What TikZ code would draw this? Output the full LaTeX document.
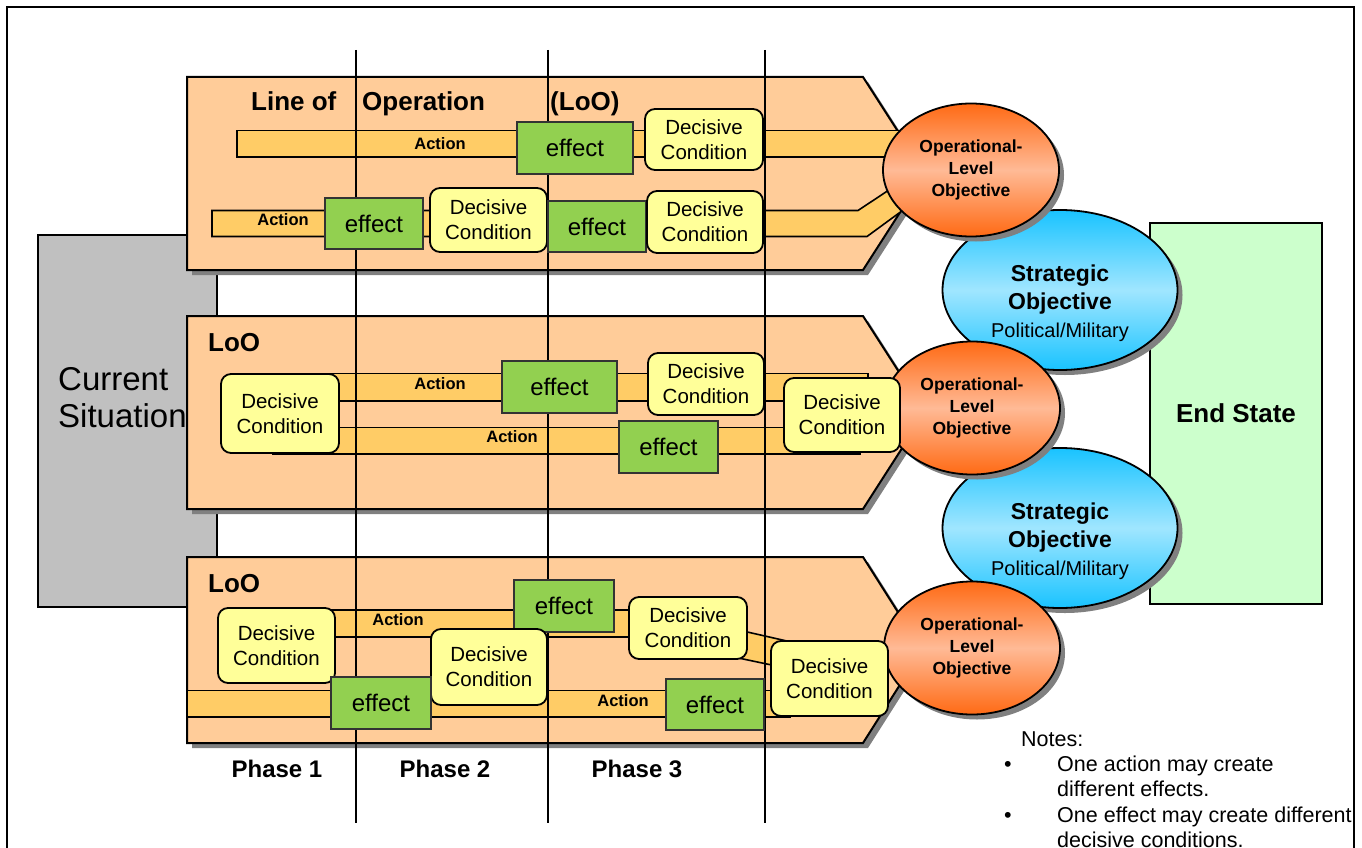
\documentclass[tikz,border=0pt]{standalone}
\usepackage{fontspec}
\setmainfont{Liberation Sans}
\usetikzlibrary{shapes.geometric,shadows,calc}

\definecolor{bandc}{HTML}{FFCC99}
\definecolor{barc}{HTML}{FFCC66}
\definecolor{effc}{HTML}{92D050}
\definecolor{dcc}{HTML}{FFFF99}
\definecolor{curc}{HTML}{C0C0C0}
\definecolor{endc}{HTML}{CCFFCC}
\definecolor{opouter}{HTML}{FF6A14}
\definecolor{opinner}{HTML}{FFBA96}
\definecolor{stouter}{HTML}{19C3FF}
\definecolor{stinner}{HTML}{A0E6FF}

\newcommand\myfs[2]{\fontsize{#1}{#2}\selectfont}

\tikzset{
  shadowed/.style={drop shadow={shadow xshift=5pt, shadow yshift=-5pt, fill=black!50, opacity=1}},
  lobband/.style={fill=bandc, draw=black, line width=2pt, shadowed},
  actbar/.style={fill=barc, draw=black, line width=1.6pt},
  phaseline/.style={draw=black, line width=2pt},
  effbox/.style={rectangle, fill=effc, draw=black!80, line width=1.2pt, inner sep=0pt, font=\myfs{24}{24}},
  dcbox/.style={rectangle, rounded corners=10pt, fill=dcc, draw=black, line width=1.8pt, inner sep=0pt, align=center, font=\myfs{20.5}{25}},
  opell/.style={ellipse, draw=black, line width=1.8pt, minimum width=176pt, minimum height=133pt, inner sep=0pt,
    top color=opouter, bottom color=opouter, middle color=opinner, shadowed, align=center, font=\bfseries\myfs{17.5}{22}},
  stell/.style={ellipse, draw=black, line width=1.8pt, minimum width=235pt, minimum height=160pt, inner sep=0pt,
    top color=stouter, bottom color=stouter, middle color=stinner, shadowed, align=center, font=\bfseries\myfs{23}{28}},
  sttag/.style={inner sep=0pt, anchor=base, font=\myfs{20}{24}},
  actlabel/.style={inner sep=0pt, font=\bfseries\myfs{16.5}{18}},
  heading/.style={inner sep=0pt, anchor=base west, font=\bfseries\myfs{26}{30}},
  phaselabel/.style={inner sep=0pt, font=\bfseries\myfs{24}{28}},
  notetext/.style={inner sep=0pt, anchor=base west, align=left, font=\myfs{21.5}{25.5}}
}

\begin{document}
\begin{tikzpicture}[x=1pt,y=-1pt]
\useasboundingbox (0,0) rectangle (1362,848);
\fill[white] (0,0) rectangle (1362,848);

% outer frame
\draw[line width=2.5pt] (7,7) rectangle (1354,900);

% current situation block
\node[rectangle, draw=black, fill=curc, line width=2pt, minimum width=179pt, minimum height=372pt,
      anchor=north west, inner sep=0pt] (cur) at (37,234) {};
\node[inner sep=0pt, anchor=west, align=left, font=\myfs{33}{37}] (curlbl) at (58,397.5) {Current\\Situation};

% lines of operation
\path[lobband] (187,77) -- (863,77) -- (925,173.5) -- (863,270) -- (187,270) -- cycle;
\path[lobband] (187,316) -- (863,316) -- (925,412.5) -- (863,509) -- (187,509) -- cycle;
\path[lobband] (187,557) -- (863,557) -- (922,650) -- (863,743) -- (187,743) -- cycle;

% action bars
\draw[actbar] (237,130.5) rectangle (920,157);
\draw[actbar] (212,210.5) -- (858,210.5) -- (925,166) -- (925,194) -- (867,236.5) -- (212,236.5) -- cycle;
\draw[actbar] (282,373.5) rectangle (868,401);
\draw[actbar] (273,427.5) rectangle (860,454);
\draw[actbar] (300,610) rectangle (640,637);
\draw[actbar] (710,623.5) -- (800,644) -- (800,671) -- (710,652) -- cycle;
\draw[actbar] (187,690.5) rectangle (790,717);

% phase boundaries
\coordinate (p1t) at (356,50);  \coordinate (p1b) at (356,823);
\coordinate (p2t) at (548,50);  \coordinate (p2b) at (548,823);
\coordinate (p3t) at (765,50);  \coordinate (p3b) at (765,823);
\draw[phaseline] (p1t) -- (p1b);
\draw[phaseline] (p2t) -- (p2b);
\draw[phaseline] (p3t) -- (p3b);

% end state
\node[rectangle, draw=black, fill=endc, line width=2pt, minimum width=172pt, minimum height=381pt,
      inner sep=0pt, font=\bfseries\myfs{26}{30}] (end) at (1236,413.5) {End State};

% strategic objectives
\node[stell] (st1) at (1060,290) {Strategic\\Objective};
\node[sttag] (st1tag) at ($(st1.center)+(0,47)$) {Political/Military};
\node[stell] (st2) at (1060,528) {Strategic\\Objective};
\node[sttag] (st2tag) at ($(st2.center)+(0,47)$) {Political/Military};

% operational-level objectives
\node[opell] (op1) at (971,170) {Operational-\\Level\\Objective};
\node[opell] (op2) at (972,408) {Operational-\\Level\\Objective};
\node[opell] (op3) at (972,648) {Operational-\\Level\\Objective};

% first line of operation
\node[effbox, minimum width=116pt, minimum height=52pt] (e11) at (575,148) {effect};
\node[dcbox, minimum width=118pt, minimum height=61pt] (d11) at (704,139.5) {Decisive\\Condition};
\node[effbox, minimum width=98pt, minimum height=51pt] (e12) at (374,223.5) {effect};
\node[dcbox, minimum width=117pt, minimum height=64pt] (d12) at (488.5,220) {Decisive\\Condition};
\node[effbox, minimum width=98pt, minimum height=51pt] (e13) at (597,226.5) {effect};
\node[dcbox, minimum width=116pt, minimum height=62pt] (d13) at (705,222) {Decisive\\Condition};

% second line of operation
\node[dcbox, minimum width=118pt, minimum height=79pt] (d21) at (280,413.5) {Decisive\\Condition};
\node[effbox, minimum width=115pt, minimum height=52pt] (e21) at (559.5,387) {effect};
\node[dcbox, minimum width=116pt, minimum height=62pt] (d22) at (706,384) {Decisive\\Condition};
\node[effbox, minimum width=99pt, minimum height=52pt] (e22) at (668.5,447) {effect};
\node[dcbox, minimum width=116pt, minimum height=74pt] (d23) at (842,415) {Decisive\\Condition};

% third line of operation
\node[dcbox, minimum width=117pt, minimum height=75pt] (d31) at (276.5,645.5) {Decisive\\Condition};
\node[effbox, minimum width=100pt, minimum height=52pt] (e31) at (564,606) {effect};
\node[dcbox, minimum width=116pt, minimum height=76pt] (d32) at (489,667) {Decisive\\Condition};
\node[dcbox, minimum width=118pt, minimum height=62pt] (d33) at (688,628) {Decisive\\Condition};
\node[dcbox, minimum width=117pt, minimum height=75pt] (d34) at (829.5,678.5) {Decisive\\Condition};
\node[effbox, minimum width=100pt, minimum height=52pt] (e32) at (381,703) {effect};
\node[effbox, minimum width=98pt, minimum height=51pt] (e33) at (715,704.5) {effect};

% action labels
\node[actlabel] (a1) at (440,143.5) {Action};
\node[actlabel] (a2) at (283,220) {Action};
\node[actlabel] (a3) at (440,383.5) {Action};
\node[actlabel] (a4) at (512,437) {Action};
\node[actlabel] (a5) at (398,619.5) {Action};
\node[actlabel] (a6) at (623,701) {Action};

% headings
\node[heading] (h1) at (251,111) {Line of};
\node[heading] (h2) at (362,111) {Operation};
\node[heading] (h3) at (550,111) {(LoO)};
\node[heading] (h4) at (208,351) {LoO};
\node[heading] (h5) at (208,592) {LoO};

% phase labels
\node[phaselabel] (ph1) at (277,769) {Phase 1};
\node[phaselabel] (ph2) at (445,769) {Phase 2};
\node[phaselabel] (ph3) at (637,769) {Phase 3};

% notes (base anchor sits on the last line of each entry)
\node[notetext] (nt) at (1021,746) {Notes:};
\node[notetext] (nb1) at (1004,796.5) {\makebox[53pt][l]{•}One action may create\\\hspace*{53pt}different effects.};
\node[notetext] (nb2) at (1004,847.5) {\makebox[53pt][l]{•}One effect may create different\\\hspace*{53pt}decisive conditions.};
\end{tikzpicture}
\end{document}
